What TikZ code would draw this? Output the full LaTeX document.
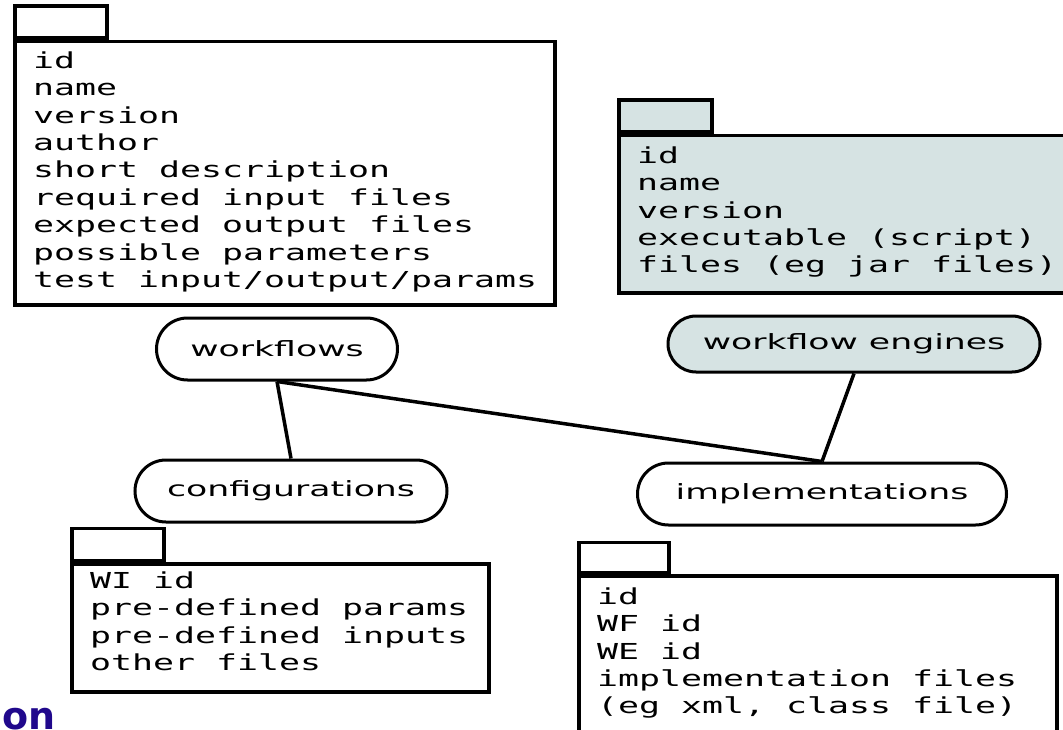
\documentclass[tikz,border=0pt]{standalone}
\usepackage{fontspec}
\newfontfamily\monofont[FakeStretch=1.585]{DejaVu Sans Mono}
\newfontfamily\labelfont[FakeStretch=1.65]{DejaVu Sans}
\newfontfamily\titlefont{DejaVu Sans}
\usetikzlibrary{calc}
\definecolor{engfill}{RGB}{214,227,227}
\definecolor{titleblue}{RGB}{32,8,140}
\begin{document}
\begin{tikzpicture}[x=1pt,y=-1pt,
  pkgbody/.style={draw, line width=3.5pt, anchor=north west, inner sep=0pt},
  pkgtab/.style={draw, line width=3.5pt, anchor=south west, inner sep=0pt, minimum width=92pt, minimum height=32pt},
  lines/.style={anchor=north west, inner sep=0pt, align=left, font={\monofont\fontsize{22}{27.4}\selectfont}},
  topic/.style={draw, line width=3pt, inner sep=0pt, font={\labelfont\fontsize{21}{24}\selectfont}},
  link/.style={line width=3.5pt}]
\path[use as bounding box] (0,0) rectangle (1063,730);
\clip (0,0) rectangle (1063,730);

% workflow package (top left)
\node[pkgbody, minimum width=540pt, minimum height=263pt] (wfbox) at (13,40) {};
\node[pkgtab] (wftab) at (wfbox.north west) {};
\node[lines] (wftext) at ($(wfbox.north west)+(20,9)$) {\strut id\\name\\version\\author\\short description\\required input files\\expected output files\\possible parameters\\test input/output/params};

% workflow engine package (top right)
\node[pkgbody, fill=engfill, minimum width=470pt, minimum height=157pt] (webox) at (617,134) {};
\node[pkgtab, fill=engfill, minimum width=93pt] (wetab) at (webox.north west) {};
\node[lines] (wetext) at ($(webox.north west)+(20,10)$) {\strut id\\name\\version\\executable (script)\\files (eg jar files)};

% configuration package (bottom left)
\node[pkgbody, minimum width=417pt, minimum height=128pt] (cfbox) at (70,562) {};
\node[pkgtab] (cftab) at (cfbox.north west) {};
\node[lines] (cftext) at ($(cfbox.north west)+(20,7)$) {\strut WI id\\pre-defined params\\pre-defined inputs\\other files};

% implementation package (bottom right)
\node[pkgbody, minimum width=478pt, minimum height=190pt] (imbox) at (577,574) {};
\node[pkgtab, minimum width=90pt, minimum height=30pt] (imtab) at (imbox.north west) {};
\node[lines] (imtext) at ($(imbox.north west)+(20,11)$) {\strut id\\WF id\\WE id\\implementation files\\(eg xml, class file)};

% topics
\node[topic, minimum width=241pt, minimum height=62pt, rounded corners=31pt] (wfl) at (277,349) {workflows};
\node[topic, fill=engfill, minimum width=372pt, minimum height=56pt, rounded corners=28pt] (eng) at (854,344) {workflow engines};
\node[topic, minimum width=312pt, minimum height=62pt, rounded corners=31pt] (cfg) at (291,491) {configurations};
\node[topic, minimum width=369pt, minimum height=62pt, rounded corners=31pt] (imp) at (822,494) {implementations};

\draw[link] (wfl.south) -- (cfg.north);
\draw[link] (wfl.south) -- (imp.north);
\draw[link] (eng.south) -- (imp.north);

% slide title fragment
\node[anchor=base west, inner sep=0pt, text=titleblue, font={\titlefont\bfseries\fontsize{38}{44}\selectfont}] (title) at (2,729) {on};
\end{tikzpicture}
\end{document}
